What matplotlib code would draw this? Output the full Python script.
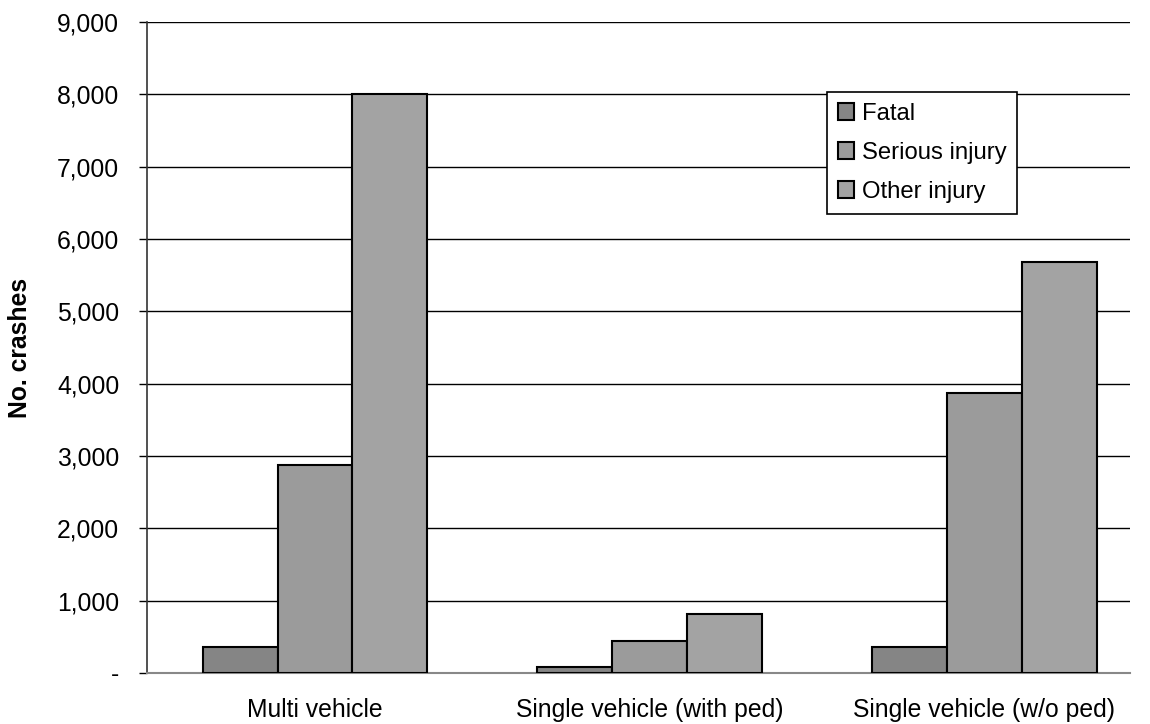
import numpy as np
import matplotlib.pyplot as plt
from matplotlib.ticker import FuncFormatter

plt.rcParams['font.family'] = ['Liberation Sans', 'DejaVu Sans']

categories = ['Multi vehicle', 'Single vehicle (with ped)', 'Single vehicle (w/o ped)']
series = ['Fatal', 'Serious injury', 'Other injury']
fatal = [360, 80, 360]
serious = [2875, 440, 3870]
other = [8000, 820, 5675]
colors = ['#858585', '#9b9b9b', '#a3a3a3']

fig = plt.figure(figsize=(11.5, 7.24), dpi=100)
ax = fig.add_axes([0.1278, 0.0705, 0.8548, 0.8992])

x = np.arange(len(categories))
w = 0.224
for i, (vals, c, lab) in enumerate(zip([fatal, serious, other], colors, series)):
    ax.bar(x + (i - 1) * w, vals, w, color=c, edgecolor='black', linewidth=1.5,
           label=lab, zorder=3)

ax.set_xlim(-0.502, 2.435)
ax.set_ylim(0, 9000)
ax.set_yticks(np.arange(0, 9001, 1000))
ax.yaxis.set_major_formatter(FuncFormatter(lambda v, p: '-' if v == 0 else f'{int(v):,}'))
ax.set_xticks(x)
ax.set_xticklabels(categories)
ax.tick_params(axis='x', length=0, pad=18, labelsize=17.8)
ax.tick_params(axis='y', length=6, width=1, direction='out', pad=14, labelsize=17.8)
ax.yaxis.grid(True, color='black', linewidth=1, zorder=0)
ax.set_axisbelow(True)

for s in ['top', 'right']:
    ax.spines[s].set_visible(False)
ax.spines['left'].set_color('#333333')
ax.spines['left'].set_linewidth(1.2)
ax.spines['bottom'].set_color('#888888')
ax.spines['bottom'].set_linewidth(1.5)

ax.set_ylabel('No. crashes', fontsize=17.8, fontweight='bold', labelpad=18)

leg = ax.legend(loc='upper left', bbox_to_anchor=(0.6918, 0.8925), fontsize=17.2,
                frameon=True, fancybox=False, edgecolor='black', framealpha=1,
                handlelength=0.7, handleheight=0.7, handletextpad=0.3,
                labelspacing=0.72, borderpad=0.45, borderaxespad=0)
leg.get_frame().set_linewidth(1.2)

fig.savefig('out.png', dpi=100)
